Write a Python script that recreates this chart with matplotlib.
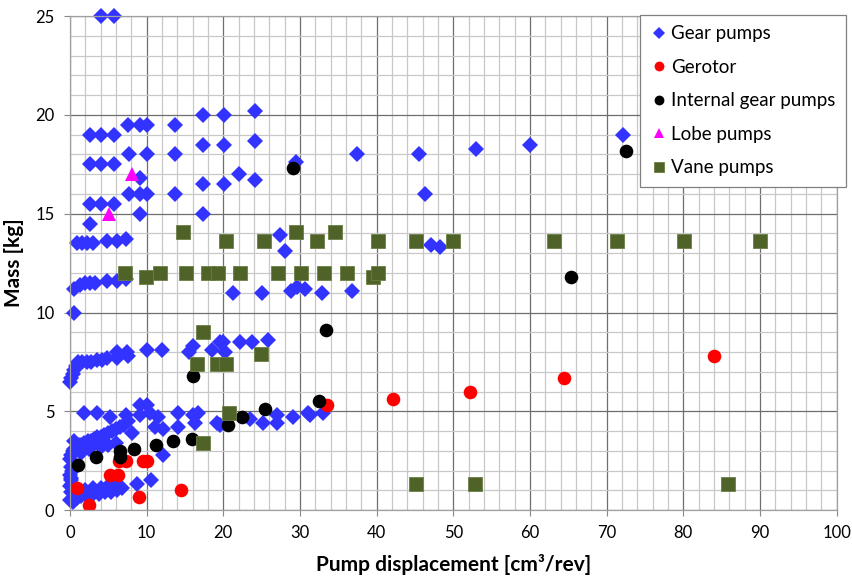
import numpy as np
import matplotlib
matplotlib.use("Agg")
import matplotlib.pyplot as plt
from matplotlib.ticker import MultipleLocator

plt.rcParams['font.family'] = ['Lato', 'DejaVu Sans']

# pump displacement [cm3/rev] and mass [kg] per pump type
gear_x = [4.0, 5.7,
          17.3, 20.1, 24.1,
          7.6, 9.1, 10.0, 13.7,
          2.6, 4.0, 5.7, 72.1,
          17.3, 20.1, 24.1, 60.0, 53.0,
          7.7, 10.0, 13.7, 37.4, 45.5,
          2.6, 4.0, 5.7, 29.5,
          22.0, 24.1, 9.1,
          17.3, 20.1,
          7.7, 9.1, 10.0, 13.7, 46.3,
          2.6, 4.0, 5.7,
          9.1, 17.3,
          2.6,
          27.4, 28.0,
          0.9, 1.6, 2.2, 3.0, 4.8, 6.1, 7.3,
          47.1, 48.3,
          0.6, 1.3, 2.0, 2.6, 3.3, 4.8, 6.1, 7.3,
          21.3, 25.0, 28.9, 29.6, 30.6, 32.9, 36.8,
          0.6,
          0.0, 0.2, 0.4, 0.6, 0.8, 1.0, 1.6, 2.2, 2.8, 3.5, 4.2, 4.8,
          6.1, 6.1, 7.4, 7.6, 10.0, 12.0, 15.5, 16.0, 18.6, 19.6, 20.2, 20.0,
          22.2, 23.7, 25.9,
          1.8, 3.5, 5.2, 7.3, 7.6, 9.1, 10.0, 9.1, 10.4, 11.5, 14.1, 14.1,
          16.0, 16.3, 16.7, 11.1, 12.1, 19.2, 19.6, 23.5, 25.2, 27.0, 27.0,
          29.1, 31.0, 31.3, 33.0,
          8.1, 12.1, 8.7, 10.6,
          0.0, 0.2, 0.4, 0.6, 0.9, 1.2, 1.5, 1.9, 2.3, 2.7, 3.1, 3.5, 4.0,
          4.5, 5.0, 5.5, 6.0, 6.5, 7.0,
          0.5, 1.5, 2.5, 4.0, 5.0, 6.0,
          0.1, 0.0, 0.1, 0.0, 0.2, 0.0, 0.4,
          0.9, 1.5, 2.2, 3.0, 3.8, 4.6, 5.4, 6.1, 6.8,
          0.3, 0.2, 0.3, 1.2, 2.0, 3.0, 4.0, 5.0, 6.0]
gear_y = [25.0, 25.0,
          20.0, 20.0, 20.2,
          19.5, 19.5, 19.5, 19.5,
          19.0, 19.0, 19.0, 19.0,
          18.5, 18.5, 18.7, 18.5, 18.3,
          18.0, 18.0, 18.0, 18.0, 18.0,
          17.5, 17.5, 17.5, 17.6,
          17.0, 16.7, 16.8,
          16.5, 16.5,
          16.0, 16.0, 16.0, 16.0, 16.0,
          15.5, 15.5, 15.5,
          15.0, 15.0,
          14.5,
          13.9, 13.1,
          13.5, 13.5, 13.5, 13.5, 13.6, 13.6, 13.7,
          13.4, 13.3,
          11.2, 11.4, 11.5, 11.5, 11.5, 11.6, 11.6, 11.7,
          11.0, 11.0, 11.1, 11.3, 11.2, 11.0, 11.1,
          10.0,
          6.5, 6.7, 6.9, 7.1, 7.3, 7.5, 7.5, 7.5, 7.5, 7.6, 7.6, 7.7,
          8.0, 7.7, 8.0, 7.8, 8.1, 8.1, 8.0, 8.3, 8.1, 8.5, 8.0, 8.5,
          8.5, 8.5, 8.6,
          4.9, 4.9, 4.7, 4.8, 4.5, 5.3, 5.3, 4.8, 4.9, 4.7, 4.9, 4.2,
          4.8, 4.4, 4.9, 4.2, 4.1, 4.4, 4.3, 4.6, 4.4, 4.8, 4.4,
          4.7, 4.9, 4.8, 4.9,
          3.9, 2.8, 1.3, 1.5,
          2.6, 2.8, 3.0, 3.1, 3.2, 3.3, 3.3, 3.4, 3.5, 3.5, 3.6, 3.7, 3.7,
          3.8, 3.9, 4.0, 4.1, 4.2, 4.3,
          3.5, 2.9, 3.1, 3.2, 3.3, 3.4,
          2.2, 1.8, 1.5, 1.2, 0.9, 0.5, 0.4,
          0.6, 0.7, 0.7, 0.8, 0.8, 0.9, 0.9, 1.0, 1.1,
          2.0, 1.6, 1.3, 1.0, 1.0, 1.1, 1.1, 1.2, 1.3]

gerotor_x = [0.9, 2.5, 5.2, 6.3, 6.4, 7.3, 9.6, 10.1, 9.0, 14.5,
             33.5, 42.2, 52.2, 64.4, 84.0]
gerotor_y = [1.1, 0.25, 1.8, 1.8, 2.5, 2.5, 2.5, 2.5, 0.65, 1.0,
             5.3, 5.6, 6.0, 6.7, 7.8]

internal_x = [1.0, 3.4, 6.5, 6.5, 8.3, 11.2, 13.4, 15.9, 16.0, 20.6,
              22.4, 25.4, 32.5, 33.4, 29.1, 65.3, 72.5]
internal_y = [2.3, 2.7, 3.0, 2.7, 3.1, 3.3, 3.5, 3.6, 6.8, 4.3,
              4.7, 5.1, 5.5, 9.1, 17.3, 11.8, 18.2]

lobe_x = [5.1, 8.1]
lobe_y = [15.0, 17.0]

vane_x = [14.7, 29.5, 34.6,
          20.3, 25.3, 32.2, 40.2, 45.1, 50.0, 63.1, 71.4, 80.1, 90.0,
          7.2, 9.9, 11.7, 15.1, 18.0, 19.3, 22.2, 27.1, 30.1, 33.1, 36.1,
          39.5, 40.2,
          17.3, 24.9, 16.6, 19.2, 20.3, 20.7, 17.3,
          45.1, 52.8, 85.8]
vane_y = [14.1, 14.1, 14.1,
          13.6, 13.6, 13.6, 13.6, 13.6, 13.6, 13.6, 13.6, 13.6, 13.6,
          12.0, 11.8, 12.0, 12.0, 12.0, 12.0, 12.0, 12.0, 12.0, 12.0, 12.0,
          11.8, 12.0,
          9.0, 7.9, 7.4, 7.4, 7.4, 4.9, 3.4,
          1.3, 1.3, 1.3]

fig = plt.figure(figsize=(8.52, 5.77), dpi=100)
ax = fig.add_axes([0.082, 0.116, 0.9, 0.856])

ax.plot(gear_x, gear_y, 'D', color='#3333FF', ms=8.3, mew=0, label='Gear pumps', clip_on=False)
ax.plot(gerotor_x, gerotor_y, 'o', color='#FF0000', ms=9.8, mew=0, label='Gerotor')
ax.plot(internal_x, internal_y, 'o', color='black', ms=9.8, mew=0, label='Internal gear pumps')
ax.plot(lobe_x, lobe_y, '^', color='#FF00FF', ms=10, mew=0, label='Lobe pumps')
ax.plot(vane_x, vane_y, 's', color='#4F6228', mec='#6B7F45', ms=10, mew=0.6, label='Vane pumps')

ax.set_xlim(0, 100)
ax.set_ylim(0, 25)
ax.xaxis.set_major_locator(MultipleLocator(10))
ax.xaxis.set_minor_locator(MultipleLocator(2))
ax.yaxis.set_major_locator(MultipleLocator(5))
ax.yaxis.set_minor_locator(MultipleLocator(1))
ax.grid(which='minor', color='#C8C8C8', lw=0.9)
ax.grid(which='major', color='#6E6E6E', lw=0.9)
ax.set_axisbelow(True)
for s in ax.spines.values():
    s.set_color('#A0A0A0')
    s.set_linewidth(0.9)
ax.tick_params(which='major', length=4, color='#888888', labelsize=12, pad=7)
ax.tick_params(which='minor', length=0)

ax.set_xlabel('Pump displacement [cm³/rev]', fontsize=15, fontweight='bold', labelpad=9)
ax.set_ylabel('Mass [kg]', fontsize=15, fontweight='bold', labelpad=8)

leg = ax.legend(loc='upper right', bbox_to_anchor=(1.012, 1.002), borderaxespad=0,
                fontsize=13.5, markerscale=0.72, handletextpad=0.2, handlelength=0.9,
                labelspacing=0.88, borderpad=0.55, fancybox=False, framealpha=1)
leg.get_frame().set_edgecolor('#808080')
leg.get_frame().set_linewidth(0.9)

fig.savefig('out.png', dpi=100)
